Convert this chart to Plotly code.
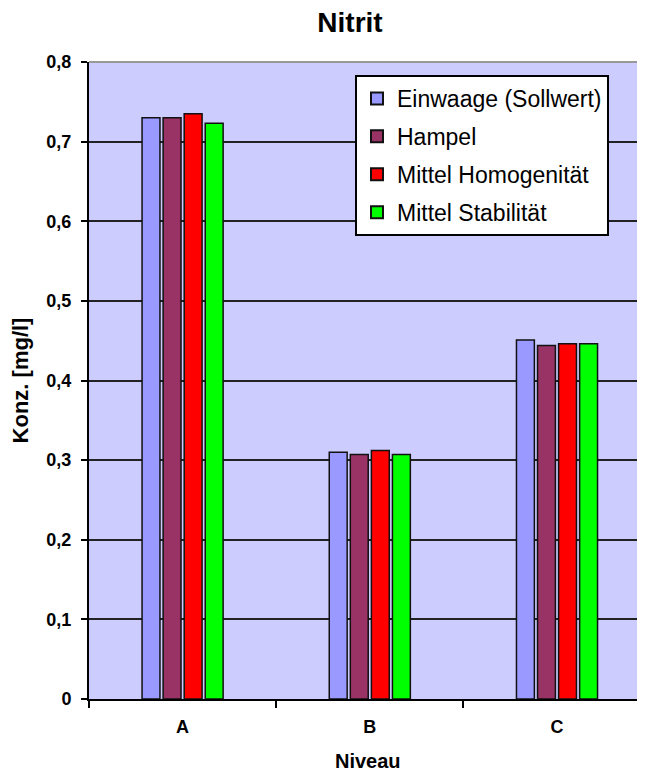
import plotly.graph_objects as go

categories = ["A", "B", "C"]
series_names = ["Einwaage (Sollwert)", "Hampel", "Mittel Homogenität", "Mittel Stabilität"]
einwaage = [0.730, 0.310, 0.451]
hampel = [0.730, 0.307, 0.444]
homogen = [0.735, 0.312, 0.446]
stabil = [0.723, 0.307, 0.446]
series_values = [einwaage, hampel, homogen, stabil]
colors = ["#9999FF", "#993366", "#FF0000", "#00FF00"]
y_tickvals = [0, 0.1, 0.2, 0.3, 0.4, 0.5, 0.6, 0.7, 0.8]
y_ticktext = ["0", "0,1", "0,2", "0,3", "0,4", "0,5", "0,6", "0,7", "0,8"]

# page has an 8px body margin, so the figure is sized/placed to compensate
W, H = 629, 766
L, T, B = 81, 54, 75
PW, PH = W - L, H - T - B
CAT_PX = 187.2  # pixel width of one category slot

fig = go.Figure()
for name, vals, col in zip(series_names, series_values, colors):
    fig.add_trace(go.Bar(
        x=categories, y=vals, name=name, legendgroup=name,
        marker=dict(color=col, line=dict(color="#111111", width=1.5)),
    ))

font_family = "Liberation Sans, Arial, sans-serif"
fig.update_layout(
    width=W, height=H,
    barmode="group", bargap=0.55, bargroupgap=0.15,
    paper_bgcolor="white", plot_bgcolor="#CCCCFF",
    margin=dict(l=L, r=0, t=T, b=B, pad=0),
    font=dict(family=font_family, color="black"),
    title=dict(text="<b>Nitrit</b>", x=342 / W, xanchor="center",
               y=1 - 14 / H, yanchor="middle",
               font=dict(size=28, family=font_family, color="black")),
    legend=dict(x=(347 - L) / PW, y=1 - (67 - T) / PH, xanchor="left", yanchor="top",
                bgcolor="white", bordercolor="black", borderwidth=2,
                font=dict(size=23, family=font_family, color="black"),
                tracegroupgap=5, itemsizing="constant"),
    showlegend=True,
)
fig.update_xaxes(
    range=[-0.5, -0.5 + PW / CAT_PX], tickson="boundaries", ticks="outside", ticklen=7,
    tickwidth=2, tickcolor="black", ticklabelstandoff=10,
    showline=True, linecolor="black", linewidth=2, showgrid=False,
    tickfont=dict(size=18, family=font_family, color="black"),
    tickprefix="<b>", ticksuffix="</b>",
)
fig.update_yaxes(
    range=[0, 0.8], tickvals=y_tickvals, ticktext=["<b>" + t + "</b>" for t in y_ticktext],
    ticks="outside", ticklen=6, tickwidth=2, tickcolor="black", ticklabelstandoff=6,
    showline=True, linecolor="black", linewidth=2,
    showgrid=True, gridcolor="#222222", gridwidth=1.5, zeroline=False,
    tickfont=dict(size=18, family=font_family, color="black"),
    title=dict(text="<b>Konz. [mg/l]</b>", standoff=16,
               font=dict(size=22, family=font_family, color="black")),
)
fig.add_annotation(text="<b>Niveau</b>", xref="paper", yref="paper",
                   x=(360 - L) / PW, y=-(753 - (T + PH)) / PH,
                   xanchor="center", yanchor="middle", showarrow=False,
                   font=dict(size=20, family=font_family, color="black"))
fig.add_shape(type="line", xref="paper", yref="paper", x0=0, x1=1, y0=1, y1=1,
              line=dict(color="#999999", width=2))
fig.write_html("out.html")
